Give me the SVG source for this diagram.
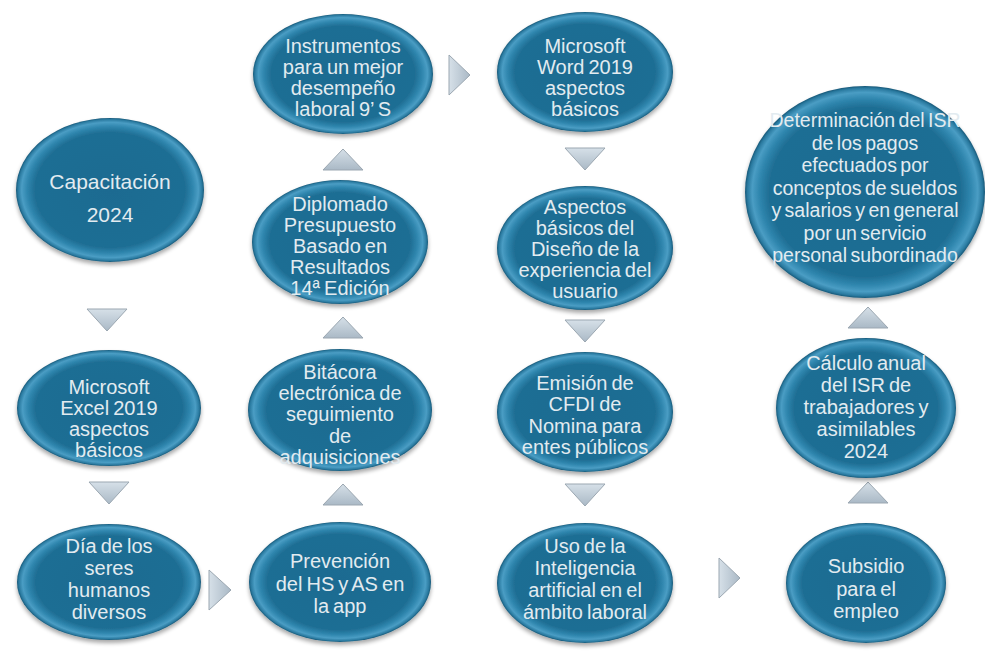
<svg xmlns="http://www.w3.org/2000/svg" width="985" height="651" viewBox="0 0 985 651">
<defs>
<radialGradient id="eg" cx="50%" cy="50%" r="50%">
<stop offset="0" stop-color="#1d6b91"/>
<stop offset="0.8" stop-color="#1f6e94"/>
<stop offset="0.88" stop-color="#2f86ae"/>
<stop offset="0.94" stop-color="#4a9dc4"/>
<stop offset="0.98" stop-color="#2a7aa0"/>
<stop offset="1" stop-color="#175878"/>
</radialGradient>
<linearGradient id="tg" x1="0" y1="0" x2="0" y2="1">
<stop offset="0" stop-color="#d6e0e8"/>
<stop offset="1" stop-color="#aab9c6"/>
</linearGradient>
<linearGradient id="tgh" x1="0" y1="0" x2="1" y2="0">
<stop offset="0" stop-color="#d6e0e8"/>
<stop offset="1" stop-color="#aab9c6"/>
</linearGradient>
<filter id="sh" x="-10%" y="-10%" width="120%" height="130%">
<feGaussianBlur in="SourceAlpha" stdDeviation="2"/>
<feOffset dy="3"/>
<feComponentTransfer><feFuncA type="linear" slope="0.35"/></feComponentTransfer>
<feMerge><feMergeNode/><feMergeNode in="SourceGraphic"/></feMerge>
</filter>
</defs>
<style>
.n ellipse{fill:url(#eg);filter:url(#sh)}
.n text{font-family:"Liberation Sans",Arial,sans-serif;font-size:20px;word-spacing:-1.5px;fill:#e2ebf0;text-anchor:middle}
.n text.big{font-size:21px}
.n text.sm{font-size:19.5px;word-spacing:-2px}
.t{fill:url(#tg);stroke:#9ba7b1;stroke-width:1}
.th{fill:url(#tgh);stroke:#9ba7b1;stroke-width:1}
</style>
<rect width="985" height="651" fill="#ffffff"/>
<g id="connectors">
<polygon class="t" points="87,309 127,309 107,331"/>
<polygon class="t" points="89,482 129,482 109,504"/>
<polygon class="th" points="209,570 209,610 231,590"/>
<polygon class="t" points="323,170 363,170 343,149"/>
<polygon class="t" points="323,338 363,338 343,317"/>
<polygon class="t" points="323,505 363,505 343,484"/>
<polygon class="th" points="449,55 449,95 470,75"/>
<polygon class="t" points="565,148 605,148 585,170"/>
<polygon class="t" points="565,320 605,320 585,342"/>
<polygon class="t" points="565,484 605,484 585,506"/>
<polygon class="th" points="719,558 719,598 740,578"/>
<polygon class="t" points="848,328 888,328 868,307"/>
<polygon class="t" points="848,503 888,503 868,482"/>
</g>
<g id="n1" class="n">
<ellipse cx="110" cy="190" rx="94" ry="72"/>
<text class="big" x="110" y="189">Capacitación</text>
<text class="big" x="110" y="222">2024</text>
</g>
<g id="n2" class="n">
<ellipse cx="109" cy="408" rx="92" ry="58"/>
<text x="109" y="394">Microsoft</text>
<text x="109" y="415">Excel 2019</text>
<text x="109" y="436">aspectos</text>
<text x="109" y="457">básicos</text>
</g>
<g id="n3" class="n">
<ellipse cx="109" cy="582" rx="92" ry="58"/>
<text x="109" y="553">Día de los</text>
<text x="109" y="575">seres</text>
<text x="109" y="597">humanos</text>
<text x="109" y="619">diversos</text>
</g>
<g id="n4" class="n">
<ellipse cx="340" cy="582" rx="91" ry="60"/>
<text x="340" y="568">Prevención</text>
<text x="340" y="591">del HS y AS en</text>
<text x="340" y="613">la app</text>
</g>
<g id="n5" class="n">
<ellipse cx="340" cy="410" rx="92" ry="61"/>
<text x="340" y="379">Bitácora</text>
<text x="340" y="400">electrónica de</text>
<text x="340" y="421">seguimiento</text>
<text x="340" y="443">de</text>
<text x="340" y="464">adquisiciones</text>
</g>
<g id="n6" class="n">
<ellipse cx="340" cy="242" rx="88" ry="62"/>
<text x="340" y="211">Diplomado</text>
<text x="340" y="232">Presupuesto</text>
<text x="340" y="253">Basado en</text>
<text x="340" y="274">Resultados</text>
<text x="340" y="295">14ª Edición</text>
</g>
<g id="n7" class="n">
<ellipse cx="343" cy="74" rx="90" ry="60"/>
<text x="343" y="53">Instrumentos</text>
<text x="343" y="74">para un mejor</text>
<text x="343" y="95">desempeño</text>
<text x="343" y="116">laboral 9’ S</text>
</g>
<g id="n8" class="n">
<ellipse cx="585" cy="72" rx="88" ry="60"/>
<text x="585" y="53">Microsoft</text>
<text x="585" y="74">Word 2019</text>
<text x="585" y="95">aspectos</text>
<text x="585" y="116">básicos</text>
</g>
<g id="n9" class="n">
<ellipse cx="585" cy="248" rx="88" ry="62"/>
<text x="585" y="214">Aspectos</text>
<text x="585" y="235">básicos del</text>
<text x="585" y="256">Diseño de la</text>
<text x="585" y="277">experiencia del</text>
<text x="585" y="298">usuario</text>
</g>
<g id="n10" class="n">
<ellipse cx="585" cy="412" rx="88" ry="60"/>
<text x="585" y="390">Emisión de</text>
<text x="585" y="411">CFDI de</text>
<text x="585" y="433">Nomina para</text>
<text x="585" y="454">entes públicos</text>
</g>
<g id="n11" class="n">
<ellipse cx="585" cy="583" rx="88" ry="60"/>
<text x="585" y="553">Uso de la</text>
<text x="585" y="575">Inteligencia</text>
<text x="585" y="597">artificial en el</text>
<text x="585" y="619">ámbito laboral</text>
</g>
<g id="n12" class="n">
<ellipse cx="866" cy="583" rx="80" ry="60"/>
<text x="866" y="573">Subsidio</text>
<text x="866" y="596">para el</text>
<text x="866" y="618">empleo</text>
</g>
<g id="n13" class="n">
<ellipse cx="866" cy="408" rx="90" ry="70"/>
<text x="866" y="370">Cálculo anual</text>
<text x="866" y="392">del ISR de</text>
<text x="866" y="414">trabajadores y</text>
<text x="866" y="436">asimilables</text>
<text x="866" y="458">2024</text>
</g>
<g id="n14" class="n">
<ellipse cx="865" cy="192" rx="120" ry="106"/>
<text class="sm" x="865" y="127">Determinación del ISR</text>
<text class="sm" x="865" y="150">de los pagos</text>
<text class="sm" x="865" y="172">efectuados por</text>
<text class="sm" x="865" y="195">conceptos de sueldos</text>
<text class="sm" x="865" y="217">y salarios y en general</text>
<text class="sm" x="865" y="240">por un servicio</text>
<text class="sm" x="865" y="262">personal subordinado</text>
</g>
</svg>
